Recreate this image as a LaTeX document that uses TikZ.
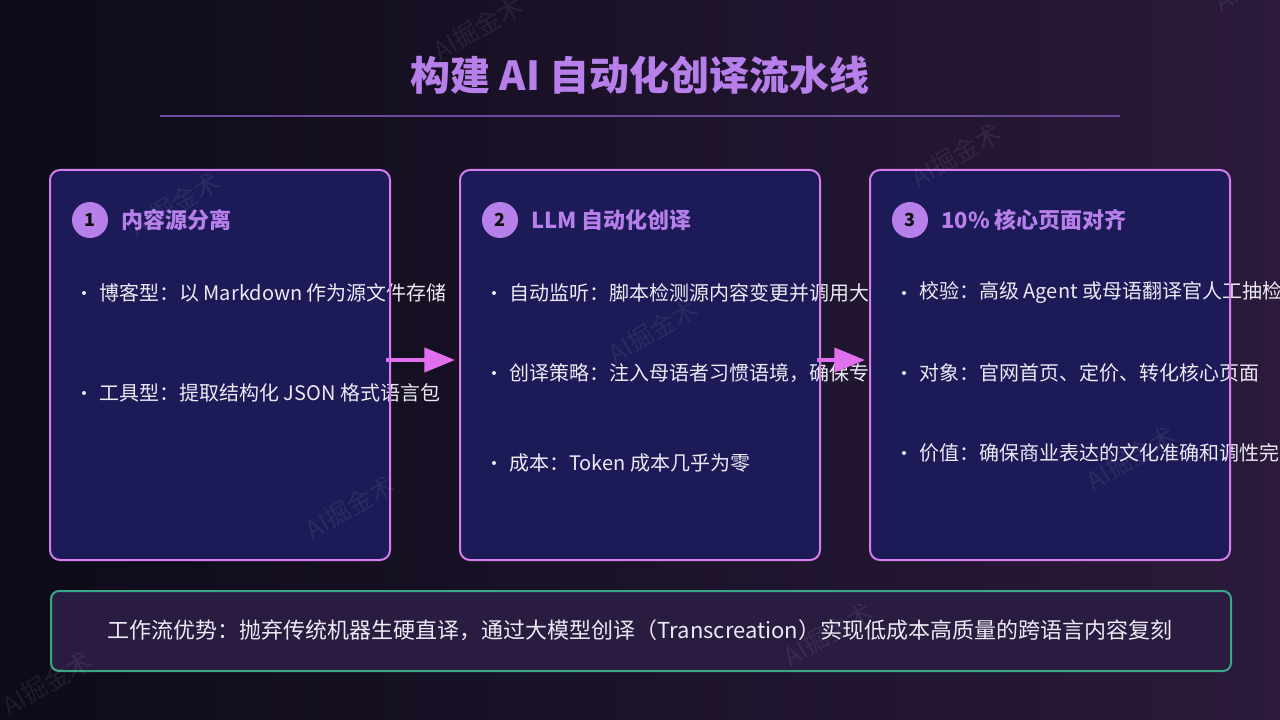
\documentclass[tikz,border=0pt]{standalone}
\usepackage{fontspec}
\setmainfont{Noto Sans CJK SC}
\usetikzlibrary{arrows.meta}
\definecolor{bgl}{HTML}{0D0B18}
\definecolor{bgr}{HTML}{2B1A3B}
\definecolor{accent}{HTML}{B67FEA}
\definecolor{rulec}{HTML}{6C4B9C}
\definecolor{cardfill}{HTML}{1C1A57}
\definecolor{cardline}{HTML}{D47DEC}
\definecolor{arrowc}{HTML}{E070EE}
\definecolor{itemtext}{HTML}{ECEAF4}
\definecolor{numtext}{HTML}{111111}
\definecolor{notefill}{HTML}{2A1B40}
\definecolor{noteline}{HTML}{38A889}
\tikzset{
  card/.style={fill=cardfill, rounded corners=7.5pt, minimum width=#1, minimum height=292.5pt, anchor=north west, inner sep=0pt, outer sep=0pt},
  cardborder/.style={draw=cardline, line width=1.5pt, rounded corners=7.5pt},
  numdot/.style={circle, fill=accent, minimum size=27pt, inner sep=0pt, font=\fontsize{13.5}{15}\selectfont\bfseries, text=numtext},
  head/.style={anchor=west, inner sep=0pt, font=\fontsize{16.5}{20}\selectfont\bfseries, text=accent},
  item/.style={anchor=west, inner sep=0pt, font=\fontsize{15}{18}\selectfont, text=itemtext},
  bul/.style={circle, fill=itemtext, minimum size=3pt, inner sep=0pt},
  flow/.style={draw=arrowc, line width=3pt, -{Triangle[length=23pt,width=18pt]}},
  wm/.style={rotate=30, font=\fontsize{19}{22}\selectfont, text=white, text opacity=0.07},
}
\begin{document}
\begin{tikzpicture}[x=0.75pt,y=-0.75pt]
\useasboundingbox (0,0) rectangle (1280,720);
\clip (0,0) rectangle (1280,720);
\shade[left color=bgl,right color=bgr] (0,0) rectangle (1280,720);

% title
\node[font=\fontsize{30}{36}\selectfont\bfseries, text=accent] (title) at (640,75) {构建 AI 自动化创译流水线};
\coordinate (rl) at (160,116);
\coordinate (rr) at (1120,116);
\draw[rulec, line width=1.5pt] (rl) -- (rr);

% card 1
\node[card=255pt] (b1) at (50,170) {};
\node[numdot] (n1) at (90,220) {1};
\node[head] (h1) at (121,220) {内容源分离};
\node[bul] (d11) at (84,293) {};
\node[item] (t11) at (99,293) {博客型：以 Markdown 作为源文件存储};
\node[bul] (d12) at (84,393) {};
\node[item] (t12) at (99,393) {工具型：提取结构化 JSON 格式语言包};
\draw[cardborder] (b1.north west) rectangle (b1.south east);

% card 2
\node[card=270pt] (b2) at (460,170) {};
\node[numdot] (n2) at (500,220) {2};
\node[head] (h2) at (531,220) {LLM 自动化创译};
\node[bul] (d21) at (494,293) {};
\node[item] (t21) at (509,293) {自动监听：脚本检测源内容变更并调用大};
\node[bul] (d22) at (494,373) {};
\node[item] (t22) at (509,373) {创译策略：注入母语者习惯语境，确保专};
\node[bul] (d23) at (494,463) {};
\node[item] (t23) at (509,463) {成本：Token 成本几乎为零};
\draw[cardborder] (b2.north west) rectangle (b2.south east);

% card 3
\node[card=270pt] (b3) at (870,170) {};
\node[numdot] (n3) at (910,220) {3};
\node[head] (h3) at (941,220) {10\% 核心页面对齐};
\node[bul] (d31) at (904,293) {};
\node[item] (t31) at (919,293) {校验：高级 Agent 或母语翻译官人工抽检};
\node[bul] (d32) at (904,373) {};
\node[item] (t32) at (919,373) {对象：官网首页、定价、转化核心页面};
\node[bul] (d33) at (904,453) {};
\node[item] (t33) at (919,453) {价值：确保商业表达的文化准确和调性完};
\draw[cardborder] (b3.north west) rectangle (b3.south east);

% arrows
\coordinate (a1s) at (386,360);
\coordinate (a1e) at (455,360);
\coordinate (a2s) at (817,360);
\coordinate (a2e) at (865,360);
\draw[flow] (a1s) -- (a1e);
\draw[flow] (a2s) -- (a2e);

% bottom note
\node[fill=notefill, draw=noteline, line width=1.5pt, rounded corners=6pt, anchor=north west, minimum width=885pt, minimum height=60pt, inner sep=0pt] (note) at (50,590) {};
\node[font=\fontsize{16.5}{20}\selectfont, text=itemtext] (notetext) at (640,630) {工作流优势：抛弃传统机器生硬直译，通过大模型创译（Transcreation）实现低成本高质量的跨语言内容复刻};

% watermarks
\foreach \wx/\wy [count=\wi] in {478/28, 956/155, 175/204, 653/331, 1131/458, 350/507, 828/634, 47/683, 1259/-21}
  \node[wm] (wm\wi) at (\wx,\wy) {AI掘金术};
\end{tikzpicture}
\end{document}
